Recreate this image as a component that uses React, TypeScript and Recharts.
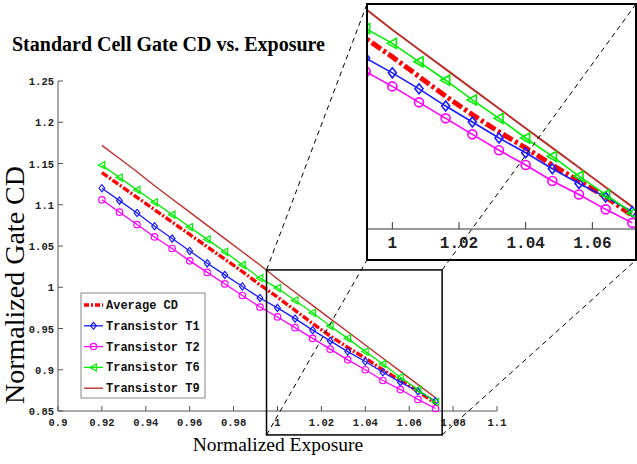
import React from 'react';
import { LineChart, Line, XAxis, YAxis } from 'recharts';

// normalized exposure (x) for every sample
const exposure = [
  0.92, 0.928, 0.936, 0.944, 0.952, 0.96, 0.968, 0.976, 0.984, 0.992,
  1.0, 1.008, 1.016, 1.024, 1.032, 1.04, 1.048, 1.056, 1.064, 1.072,
];

// normalized gate CD
const avgCD = [
  1.139, 1.124, 1.109, 1.094, 1.079, 1.064, 1.049, 1.034, 1.019, 1.003,
  0.988, 0.972, 0.956, 0.941, 0.927, 0.914, 0.9, 0.887, 0.874, 0.859,
];
const t1 = [
  1.12, 1.105, 1.09, 1.074, 1.059, 1.044, 1.029, 1.015, 1.001, 0.987,
  0.975, 0.962, 0.948, 0.935, 0.922, 0.91, 0.897, 0.885, 0.874, 0.862,
];
const t2 = [
  1.106, 1.091, 1.076, 1.061, 1.047, 1.032, 1.018, 1.004, 0.99, 0.976,
  0.964, 0.951, 0.938, 0.925, 0.912, 0.9, 0.887, 0.876, 0.864, 0.853,
];
const t6 = [
  1.148, 1.133, 1.118, 1.103, 1.088, 1.073, 1.058, 1.043, 1.027, 1.011,
  0.999, 0.984, 0.969, 0.953, 0.938, 0.922, 0.907, 0.891, 0.876, 0.861,
];
const t9 = [
  1.172, 1.156, 1.14, 1.123, 1.107, 1.091, 1.075, 1.059, 1.043, 1.027,
  1.01, 0.994, 0.978, 0.962, 0.946, 0.93, 0.914, 0.898, 0.882, 0.866,
];

const mainXTicks = [0.9, 0.92, 0.94, 0.96, 0.98, 1, 1.02, 1.04, 1.06, 1.08, 1.1];
const mainYTicks = [0.85, 0.9, 0.95, 1, 1.05, 1.1, 1.15, 1.2, 1.25];
const insetXTicks = [1, 1.02, 1.04, 1.06];

const data = exposure.map((x, i) => ({
  x,
  avg: avgCD[i],
  t1: t1[i],
  t2: t2[i],
  t6: t6[i],
  t9: t9[i],
}));

const MONO = "'Liberation Mono', 'DejaVu Sans Mono', monospace";
const SERIF = "'Liberation Serif', 'Times New Roman', serif";
const AXIS = '#555';

type Shape = 'none' | 'diamond' | 'circle' | 'triangle';

const series: { key: string; name: string; color: string; width: number; dash?: string; shape: Shape }[] = [
  { key: 'avg', name: 'Average CD', color: '#ff0000', width: 3.4, dash: '7 2 2 2', shape: 'none' },
  { key: 't1', name: 'Transistor T1', color: '#1a1aff', width: 1.3, shape: 'diamond' },
  { key: 't2', name: 'Transistor T2', color: '#ff00ff', width: 1.3, shape: 'circle' },
  { key: 't6', name: 'Transistor T6', color: '#00ee00', width: 1.3, shape: 'triangle' },
  { key: 't9', name: 'Transistor T9', color: '#b8302c', width: 1.4, shape: 'none' },
];

// main plot frame (px) and domains, also used to place the zoom box
const PLOT = { left: 58, right: 497, top: 81, bottom: 411 };
const X_DOMAIN = [0.9, 1.1];
const Y_DOMAIN = [0.85, 1.25];
const zoomBox = { x1: 0.995, x2: 1.075, y1: 0.821, y2: 1.021 };
const INSET = { left: 367, top: 4, width: 270, height: 256 };

const px = (v: number) => PLOT.left + ((v - X_DOMAIN[0]) / (X_DOMAIN[1] - X_DOMAIN[0])) * (PLOT.right - PLOT.left);
const py = (v: number) => PLOT.bottom - ((v - Y_DOMAIN[0]) / (Y_DOMAIN[1] - Y_DOMAIN[0])) * (PLOT.bottom - PLOT.top);

const fmt = (v: number) => String(parseFloat(v.toFixed(2)));

const marker = (shape: Shape, cx: number, cy: number, r: number, color: string, sw: number, key?: any) => {
  if (shape === 'diamond')
    return <path key={key} d={`M${cx},${cy - r}L${cx + r * 0.8},${cy}L${cx},${cy + r}L${cx - r * 0.8},${cy}Z`} fill="none" stroke={color} strokeWidth={sw} />;
  if (shape === 'circle') return <circle key={key} cx={cx} cy={cy} r={r * 0.9} fill="none" stroke={color} strokeWidth={sw} />;
  if (shape === 'triangle')
    return <path key={key} d={`M${cx - r},${cy}L${cx + r * 0.8},${cy - r}L${cx + r * 0.8},${cy + r}Z`} fill="none" stroke={color} strokeWidth={sw} />;
  return null;
};

const makeDot = (shape: Shape, color: string, r: number, sw: number) => (props: any) => {
  const { cx, cy, index } = props;
  if (cx == null || cy == null) return <g key={index} />;
  return <g key={index}>{marker(shape, cx, cy, r, color, sw)}</g>;
};

const MainXTick = (props: any) => {
  const { x, y, payload } = props;
  return (
    <g>
      <line x1={x} x2={x} y1={y} y2={y - 5} stroke={AXIS} />
      <text x={x} y={y + 14.5} textAnchor="middle" fontFamily={MONO} fontWeight="bold" fontSize={10.5} fill="#222">
        {fmt(payload.value)}
      </text>
    </g>
  );
};

const MainYTick = (props: any) => {
  const { x, y, payload } = props;
  return (
    <g>
      <line x1={x} x2={x + 5} y1={y} y2={y} stroke={AXIS} />
      <text x={x - 4} y={y + 4} textAnchor="end" fontFamily={MONO} fontWeight="bold" fontSize={10.5} fill="#222">
        {fmt(payload.value)}
      </text>
    </g>
  );
};

const InsetXTick = (props: any) => {
  const { x, y, payload } = props;
  return (
    <g>
      <line x1={x} x2={x} y1={y} y2={y - 7} stroke="#333" />
      <text x={x} y={y + 19} textAnchor="middle" fontFamily={MONO} fontWeight="bold" fontSize={16} fill="#222">
        {fmt(payload.value)}
      </text>
    </g>
  );
};

const Legend = () => (
  <g>
    <rect x={81} y={293} width={124} height={105} fill="#fff" stroke="#888" strokeWidth={1} />
    {series.map((s, i) => {
      const cy = 305 + i * 20.8;
      return (
        <g key={s.key}>
          <line x1={84} x2={103} y1={cy} y2={cy} stroke={s.color} strokeWidth={s.width} strokeDasharray={s.dash ? '5 2 2 2' : undefined} />
          {marker(s.shape, 93.5, cy, 3.5, s.color, 1.2)}
          <text x={106} y={cy + 4} fontFamily={MONO} fontWeight="bold" fontSize={12} fill="#111">
            {s.name}
          </text>
        </g>
      );
    })}
  </g>
);

const App: React.FC = () => {
  const bx1 = px(zoomBox.x1);
  const bx2 = px(zoomBox.x2);
  const by1 = py(zoomBox.y2);
  const by2 = py(zoomBox.y1);
  const iRight = INSET.left + INSET.width - 1;
  const iBottom = INSET.top + INSET.height;

  return (
    <div style={{ position: 'absolute', left: 0, top: 0, width: 637, height: 464, background: '#fff', overflow: 'hidden' }}>
      <LineChart width={637} height={464} data={data} margin={{ top: PLOT.top, right: 637 - PLOT.right, bottom: 0, left: 0 }}>
        <XAxis
          dataKey="x"
          type="number"
          domain={X_DOMAIN}
          ticks={mainXTicks}
          interval={0}
          height={464 - PLOT.bottom}
          stroke={AXIS}
          tickLine={false}
          tickSize={0}
          tickMargin={0}
          tick={<MainXTick />}
        />
        <YAxis
          type="number"
          domain={Y_DOMAIN}
          ticks={mainYTicks}
          interval={0}
          width={PLOT.left}
          stroke={AXIS}
          tickLine={false}
          tickSize={0}
          tickMargin={0}
          tick={<MainYTick />}
        />
        {series.map((s) => (
          <Line
            key={s.key}
            type="linear"
            dataKey={s.key}
            name={s.name}
            stroke={s.color}
            strokeWidth={s.width}
            strokeDasharray={s.dash}
            dot={s.shape === 'none' ? false : makeDot(s.shape, s.color, 3.6, 1.2)}
            activeDot={false}
            isAnimationActive={false}
          />
        ))}
      </LineChart>

      <div style={{ position: 'absolute', left: INSET.left, top: INSET.top, width: INSET.width, height: INSET.height, background: '#fff' }}>
        <LineChart width={INSET.width} height={INSET.height} data={data} margin={{ top: 0, right: 1, bottom: 0, left: 0 }}>
          <XAxis
            dataKey="x"
            type="number"
            domain={[0.9924, 1.0731]}
            allowDataOverflow
            ticks={insetXTicks}
            interval={0}
            height={31}
            stroke="#333"
            tickLine={false}
            tickSize={0}
            tickMargin={0}
            tick={<InsetXTick />}
          />
          <YAxis type="number" domain={[0.848, 1.031]} allowDataOverflow hide />
          {series.map((s) => (
            <Line
              key={s.key}
              type="linear"
              dataKey={s.key}
              stroke={s.color}
              strokeWidth={s.key === 'avg' ? 5 : s.key === 't9' ? 2 : 1.6}
              strokeDasharray={s.dash ? '11 3 3 3' : undefined}
              dot={s.shape === 'none' ? false : makeDot(s.shape, s.color, 5, 1.6)}
              activeDot={false}
              isAnimationActive={false}
            />
          ))}
        </LineChart>
      </div>

      <svg width={637} height={464} style={{ position: 'absolute', left: 0, top: 0, pointerEvents: 'none' }}>
        <text x={12} y={51} fontFamily={SERIF} fontWeight="bold" fontSize={20} fill="#000">
          Standard Cell Gate CD vs. Exposure
        </text>
        <text x={278} y={451} textAnchor="middle" fontFamily={SERIF} fontSize={19.5} fill="#000">
          Normalized Exposure
        </text>
        <text x={24} y={285} textAnchor="middle" fontFamily={SERIF} fontSize={28} fill="#000" transform="rotate(-90 24 285)">
          Normalized Gate CD
        </text>

        <Legend />

        <rect x={bx1} y={by1} width={bx2 - bx1} height={by2 - by1} fill="none" stroke="#000" strokeWidth={1.5} />
        <rect x={INSET.left} y={INSET.top} width={INSET.width - 1} height={INSET.height} fill="none" stroke="#000" strokeWidth={2} />

        <g stroke="#000" strokeWidth={1} strokeDasharray="5 4">
          <line x1={bx1} y1={by1} x2={INSET.left} y2={INSET.top} />
          <line x1={bx1} y1={by2} x2={INSET.left} y2={iBottom} />
          <line x1={bx2} y1={by1} x2={iRight} y2={INSET.top} />
          <line x1={bx2} y1={by2} x2={iRight} y2={iBottom} />
        </g>
      </svg>
    </div>
  );
};

export default App;
